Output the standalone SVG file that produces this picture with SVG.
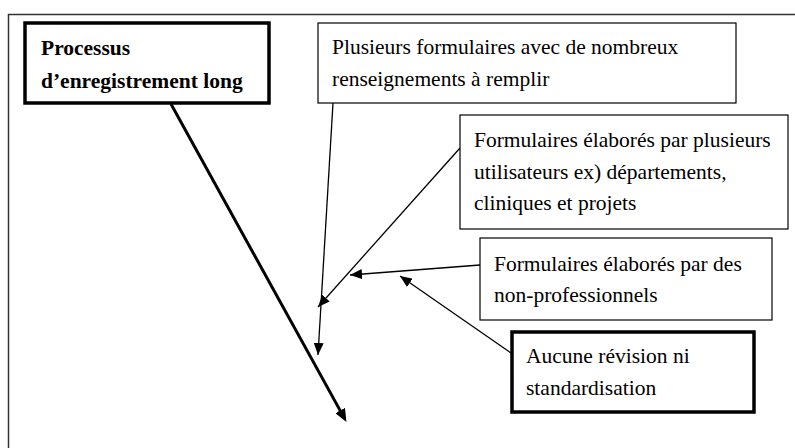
<svg xmlns="http://www.w3.org/2000/svg" width="795" height="448" viewBox="0 0 795 448">
<style>
.box{fill:#fff;stroke:#000;stroke-width:1.2}
.thick{fill:#fff;stroke:#000;stroke-width:3.5}
.t{font-family:"Liberation Serif","Times New Roman",serif;font-size:21.5px;fill:#000}
.b{font-weight:bold}
.c{fill:none;stroke:#000;stroke-width:1.3}
.ck{fill:none;stroke:#000;stroke-width:3}
</style>
<defs>
<marker id="ah" markerUnits="userSpaceOnUse" markerWidth="13" markerHeight="10" refX="12" refY="5" orient="auto">
<path d="M0,0 L12,5 L0,10 z" fill="#000"/>
</marker>
<marker id="ahk" markerUnits="userSpaceOnUse" markerWidth="13" markerHeight="11" refX="9" refY="5.5" orient="auto">
<path d="M0,0 L13,5.5 L0,11 z" fill="#000"/>
</marker>
</defs>
<path d="M8.5,448 V14.5 H795" fill="none" stroke="#333" stroke-width="1.5"/>
<g id="connectors">
<line class="ck" x1="171" y1="104" x2="344.5" y2="418.4" marker-end="url(#ahk)"/>
<line class="c" x1="333" y1="103" x2="318" y2="355" marker-end="url(#ah)"/>
<line class="c" x1="460" y1="148" x2="318" y2="307" marker-end="url(#ah)"/>
<line class="c" x1="480" y1="265" x2="350" y2="275" marker-end="url(#ah)"/>
<line class="c" x1="511" y1="353" x2="400" y2="276" marker-end="url(#ah)"/>
</g>
<g id="n1">
<rect class="thick" x="25" y="23" width="244" height="80"/>
<text class="t b" x="41" y="55">Processus</text>
<text class="t b" x="41" y="88">d’enregistrement long</text>
</g>
<g id="n2">
<rect class="box" x="318" y="23" width="418" height="80"/>
<text class="t" x="332" y="54">Plusieurs formulaires avec de nombreux</text>
<text class="t" x="332" y="86">renseignements à remplir</text>
</g>
<g id="n3">
<rect class="box" x="460" y="115" width="328" height="114"/>
<text class="t" x="474" y="147">Formulaires élaborés par plusieurs</text>
<text class="t" x="474" y="179">utilisateurs ex) départements,</text>
<text class="t" x="474" y="210">cliniques et projets</text>
</g>
<g id="n4">
<rect class="box" x="480" y="238" width="292" height="82"/>
<text class="t" x="494" y="271">Formulaires élaborés par des</text>
<text class="t" x="494" y="302">non-professionnels</text>
</g>
<g id="n5">
<rect class="thick" x="512" y="332" width="242" height="80"/>
<text class="t" x="526" y="363">Aucune révision ni</text>
<text class="t" x="526" y="395">standardisation</text>
</g>
</svg>
